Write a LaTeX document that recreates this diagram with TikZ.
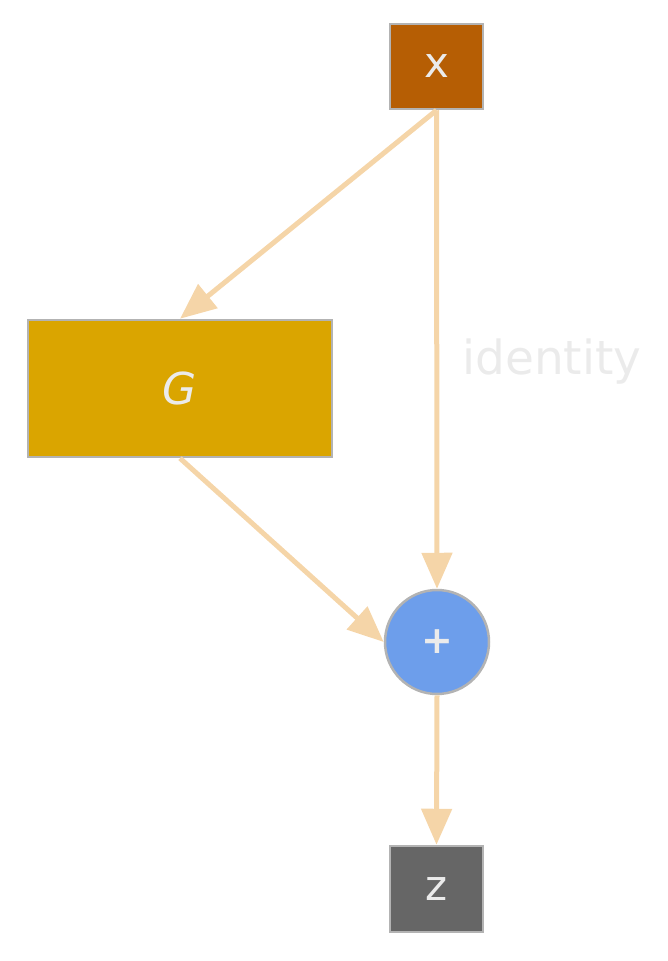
\documentclass[tikz,border=0pt]{standalone}
\usepackage{fontspec}
\setmainfont{DejaVu Sans}
\usetikzlibrary{arrows.meta}
\definecolor{edgec}{HTML}{F5D5A8}
\definecolor{bordc}{HTML}{B3B3B3}
\definecolor{txtc}{HTML}{EBEBEB}
\definecolor{xfill}{HTML}{B65E04}
\definecolor{gfill}{HTML}{DAA500}
\definecolor{pfill}{HTML}{6D9EEB}
\definecolor{zfill}{HTML}{666666}
\tikzset{
  boxnode/.style={draw=bordc, line width=2.5pt, inner sep=0pt, text=txtc},
  conn/.style={draw=edgec, line width=5pt, -{Triangle[length=36pt,width=30pt]}},
}
\begin{document}
\begin{tikzpicture}[x=1pt,y=-1pt]
\useasboundingbox (0,0) rectangle (667,961);
\node[boxnode, fill=xfill, minimum width=93pt, minimum height=85pt, font=\fontsize{42}{46}\selectfont] (x) at (436.5,66.5) {x};
\node[boxnode, fill=gfill, minimum width=304pt, minimum height=137pt, font=\fontsize{44}{48}\selectfont\itshape] (G) at (180,388.5) {G};
\node[boxnode, circle, fill=pfill, minimum size=104pt, font=\fontsize{38}{42}\selectfont\bfseries] (p) at (437,642) {+};
\node[boxnode, fill=zfill, minimum width=93pt, minimum height=86pt, font=\fontsize{42}{46}\selectfont] (z) at (436.5,889) {z};
\node[text=txtc, font=\fontsize{47}{50}\selectfont, anchor=west, inner sep=0pt] (id) at (462,362) {identity};
\draw[conn] (x.south) -- (G.north);
\draw[conn] (x.south) -- (p.north);
\draw[conn] (G.south) -- (p.west);
\draw[conn] (p.south) -- (z.north);
\end{tikzpicture}
\end{document}
